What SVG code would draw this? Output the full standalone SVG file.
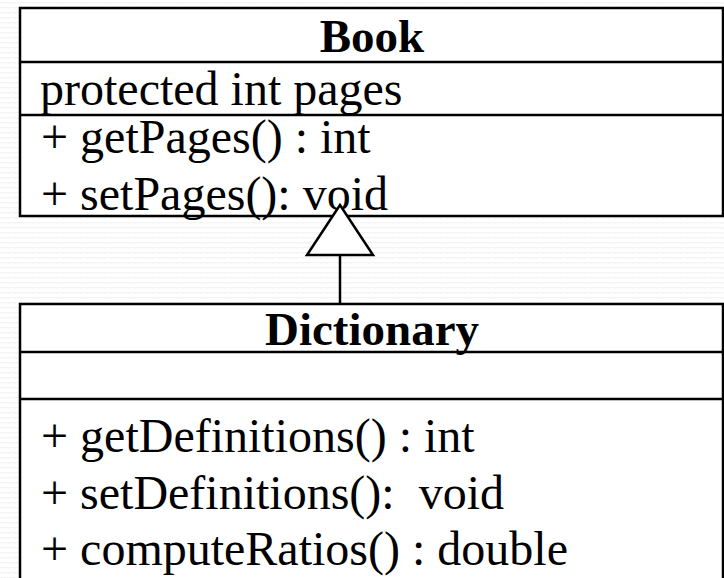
<svg xmlns="http://www.w3.org/2000/svg" width="724" height="578" viewBox="0 0 724 578">
<defs>
<pattern id="bg" width="6" height="5" patternUnits="userSpaceOnUse">
<path d="M0 3.5 L1.5 2 L3 3.5 L4.5 2 L6 3.5" fill="none" stroke="#ececec" stroke-width="1"/>
</pattern>
<style>
.box{fill:#fff;stroke:#000;stroke-width:2.5}
.div{stroke:#000;stroke-width:2.5}
.t{font-family:"Liberation Serif","Times New Roman",serif;font-size:48px;fill:#000}
.b{font-weight:bold;text-anchor:middle;font-size:47px}
.conn{fill:#fff;stroke:#000;stroke-width:2.5;stroke-linejoin:miter}
</style>
</defs>
<rect width="724" height="578" fill="#fff"/>
<rect width="724" height="578" fill="url(#bg)"/>
<g id="book">
<rect class="box" x="20" y="8" width="703" height="208"/>
<line class="div" x1="20" y1="62" x2="723" y2="62"/>
<line class="div" x1="20" y1="115" x2="723" y2="115"/>
<text class="t b" x="372" y="52">Book</text>
<text class="t" x="40" y="105">protected int pages</text>
<text class="t" x="41" y="153">+ getPages() : int</text>
<text class="t" x="41" y="210">+ setPages(): void</text>
</g>
<g id="dictionary">
<rect class="box" x="20" y="304" width="703" height="300"/>
<line class="div" x1="20" y1="352" x2="723" y2="352"/>
<line class="div" x1="20" y1="399" x2="723" y2="399"/>
<text class="t b" x="372" y="345">Dictionary</text>
<text class="t" x="41" y="452">+ getDefinitions() : int</text>
<text class="t" x="41" y="509" xml:space="preserve">+ setDefinitions():  void</text>
<text class="t" x="41" y="565">+ computeRatios() : double</text>
</g>
<g id="connectors">
<line class="conn" x1="340" y1="255" x2="340" y2="304"/>
<polygon class="conn" points="340,205 307,255 373,255"/>
</g>
</svg>
